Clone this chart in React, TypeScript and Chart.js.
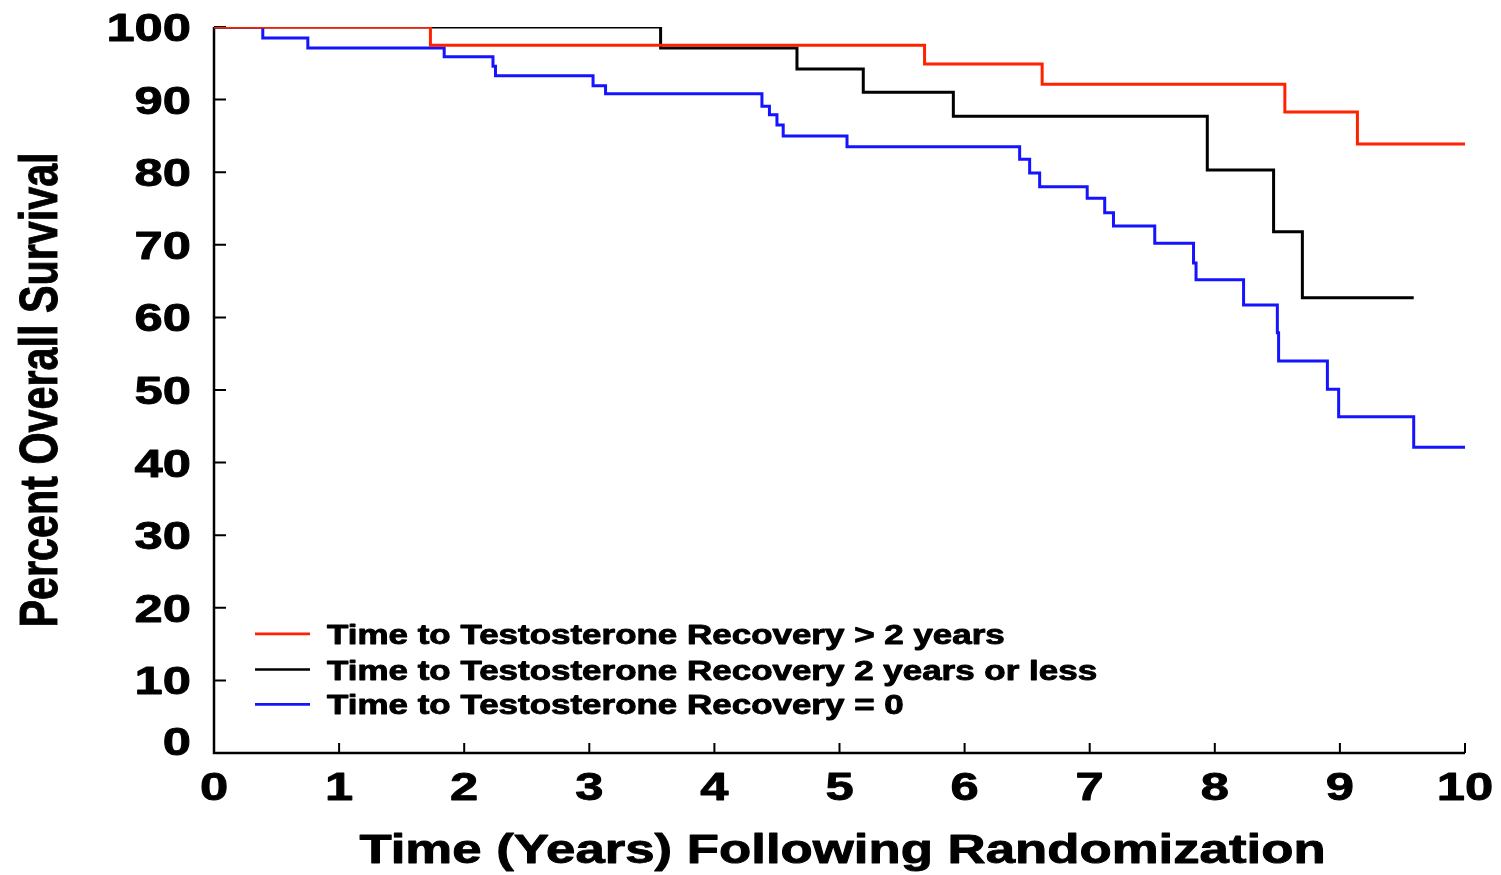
import { useEffect, useRef } from "react";
import { Chart, registerables } from "chart.js";

Chart.register(...registerables);

// ---- Data ----
const xTickValues = [0, 1, 2, 3, 4, 5, 6, 7, 8, 9, 10];
const yTickValues = [0, 10, 20, 30, 40, 50, 60, 70, 80, 90, 100];

const xAxisTitle = "Time (Years) Following Randomization";
const yAxisTitle = "Percent Overall Survival";

const seriesLabels = [
  "Time to Testosterone Recovery > 2 years",
  "Time to Testosterone Recovery 2 years or less",
  "Time to Testosterone Recovery = 0",
];
const seriesColors = ["#ff2200", "#000000", "#1414ff"];

// Red: recovery > 2 years
const redTimes = [0, 1.73, 5.68, 6.62, 8.56, 9.14, 10.0];
const redSurvival = [100, 97.5, 94.9, 92.1, 88.3, 83.9, 83.9];

// Black: recovery 2 years or less
const blackTimes = [0, 3.57, 4.66, 5.19, 5.91, 7.94, 8.47, 8.7, 9.59];
const blackSurvival = [100, 97.1, 94.2, 91.0, 87.7, 80.3, 71.8, 62.7, 62.7];

// Blue: recovery = 0
const blueTimes = [
  0, 0.39, 0.75, 1.84, 2.23, 2.25, 3.03, 3.13, 4.38, 4.44, 4.5, 4.55, 5.06,
  6.44, 6.52, 6.6, 6.98, 7.12, 7.19, 7.52, 7.83, 7.85, 8.23, 8.5, 8.51, 8.9,
  8.99, 9.59, 10.0,
];
const blueSurvival = [
  100, 98.5, 97.1, 95.9, 94.6, 93.3, 91.9, 90.8, 89.1, 87.9, 86.5, 85.0, 83.5,
  81.8, 79.9, 78.0, 76.4, 74.4, 72.6, 70.2, 67.5, 65.2, 61.7, 57.9, 54.0, 50.1,
  46.3, 42.1, 42.1,
];

const FONT = '"Liberation Sans", Arial, Helvetica, sans-serif';
const STRETCH = 1.3;
const HEAVY = 0.9;

function toPoints(times: number[], values: number[]) {
  return times.map((t, i) => ({ x: t, y: values[i] }));
}

function stretchedText(
  ctx: CanvasRenderingContext2D,
  text: string,
  x: number,
  y: number,
  size: number,
  align: "left" | "center" | "right"
) {
  ctx.save();
  ctx.font = `bold ${size}px ${FONT}`;
  ctx.textBaseline = "alphabetic";
  ctx.textAlign = "left";
  const w = ctx.measureText(text).width * STRETCH;
  const left = align === "center" ? x - w / 2 : align === "right" ? x - w : x;
  ctx.translate(left, y);
  ctx.scale(STRETCH, 1);
  ctx.fillStyle = "#000";
  ctx.strokeStyle = "#000";
  ctx.lineWidth = HEAVY;
  ctx.lineJoin = "round";
  ctx.fillText(text, 0, 0);
  ctx.strokeText(text, 0, 0);
  ctx.restore();
}

const axesPlugin = {
  id: "kmAxes",
  beforeDatasetsDraw(chart: any) {
    const ctx: CanvasRenderingContext2D = chart.ctx;
    const { left, right, top, bottom } = chart.chartArea;
    const xs = chart.scales.x;
    const ys = chart.scales.y;
    ctx.save();
    ctx.strokeStyle = "#000";
    ctx.lineWidth = 2.5;
    ctx.lineCap = "butt";
    ctx.beginPath();
    ctx.moveTo(left, top);
    ctx.lineTo(left, bottom);
    ctx.lineTo(right, bottom);
    ctx.stroke();
    ctx.lineWidth = 2;
    ctx.beginPath();
    yTickValues.forEach((v) => {
      const py = ys.getPixelForValue(v);
      ctx.moveTo(left, py);
      ctx.lineTo(left + 12, py);
    });
    xTickValues.forEach((v) => {
      const px = xs.getPixelForValue(v);
      ctx.moveTo(px, bottom);
      ctx.lineTo(px, bottom - 10);
    });
    ctx.stroke();
    ctx.restore();
  },
  afterDraw(chart: any) {
    const ctx: CanvasRenderingContext2D = chart.ctx;
    const { left, bottom, top } = chart.chartArea;
    const xs = chart.scales.x;
    const ys = chart.scales.y;

    // y tick labels
    yTickValues.forEach((v) => {
      const py = ys.getPixelForValue(v);
      const base = v === 0 ? py + 2 : py + 14;
      stretchedText(ctx, String(v), left - 23, base, 39, "right");
    });
    // x tick labels
    xTickValues.forEach((v) => {
      const px = xs.getPixelForValue(v);
      stretchedText(ctx, String(v), px, bottom + 47, 39, "center");
    });
    // x title
    stretchedText(ctx, xAxisTitle, (left + chart.chartArea.right) / 2 + 3, bottom + 110, 40.6, "center");

    // y title (rotated, stretched across its height)
    ctx.save();
    ctx.font = `bold 41.3px ${FONT}`;
    ctx.textAlign = "center";
    ctx.textBaseline = "alphabetic";
    ctx.fillStyle = "#000";
    ctx.strokeStyle = "#000";
    ctx.lineWidth = HEAVY * 0.8;
    ctx.translate(57, (top + bottom) / 2);
    ctx.rotate(-Math.PI / 2);
    ctx.scale(1, STRETCH);
    ctx.fillText(yAxisTitle, 0, 0);
    ctx.strokeText(yAxisTitle, 0, 0);
    ctx.restore();

    // legend
    const rowsY = [ys.getPixelForValue(16.4), ys.getPixelForValue(11.5), ys.getPixelForValue(6.7)];
    seriesLabels.forEach((label, i) => {
      const y = rowsY[i];
      ctx.save();
      ctx.strokeStyle = seriesColors[i];
      ctx.lineWidth = 2.7;
      ctx.beginPath();
      ctx.moveTo(left + 41, y);
      ctx.lineTo(left + 96, y);
      ctx.stroke();
      ctx.restore();
      stretchedText(ctx, label, left + 113, y + 10, 26.9, "left");
    });
  },
};

export default function App() {
  const canvasRef = useRef<HTMLCanvasElement | null>(null);

  useEffect(() => {
    if (!canvasRef.current) return;
    const series = [
      toPoints(redTimes, redSurvival),
      toPoints(blackTimes, blackSurvival),
      toPoints(blueTimes, blueSurvival),
    ];
    const chart = new Chart(canvasRef.current, {
      type: "line",
      data: {
        datasets: series.map((pts, i) => ({
          label: seriesLabels[i],
          data: pts,
          borderColor: seriesColors[i],
          backgroundColor: seriesColors[i],
          borderWidth: 3,
          stepped: "before" as const,
          pointRadius: 0,
          pointHoverRadius: 0,
          fill: false,
          tension: 0,
          borderCapStyle: "butt" as const,
          borderJoinStyle: "miter" as const,
        })),
      },
      options: {
        responsive: false,
        animation: false,
        devicePixelRatio: 1,
        layout: { padding: { left: 214, right: 36, top: 27, bottom: 122 } },
        plugins: {
          legend: { display: false },
          tooltip: { enabled: false },
          title: { display: false },
        },
        scales: {
          x: { type: "linear", min: 0, max: 10, display: false },
          y: { type: "linear", min: 0, max: 100, display: false },
        },
        events: [],
      },
      plugins: [axesPlugin],
    });
    return () => chart.destroy();
  }, []);

  return (
    <div
      style={{
        position: "absolute",
        left: 0,
        top: 0,
        width: 1501,
        height: 875,
        background: "#fff",
      }}
    >
      <canvas ref={canvasRef} width={1501} height={875} />
    </div>
  );
}
